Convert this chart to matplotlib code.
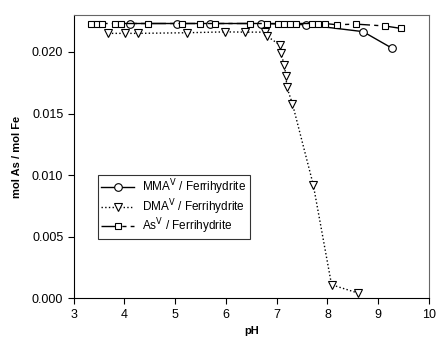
import matplotlib
matplotlib.use('Agg')
import matplotlib.pyplot as plt

plt.rcParams.update({
    'font.family': ['Liberation Sans', 'DejaVu Sans'],
    'font.size': 9,
})

# MMA(V) on ferrihydrite
mma_ph = [4.10, 5.03, 5.68, 6.69, 7.58, 8.70, 9.27]
mma_y = [0.0223, 0.0223, 0.0223, 0.0223, 0.0222, 0.02164, 0.0203]

# DMA(V) on ferrihydrite
dma_ph = [3.68, 4.01, 4.27, 5.23, 5.98, 6.38, 6.76, 6.80, 7.06, 7.08,
          7.15, 7.18, 7.20, 7.31, 7.72, 8.08, 8.60]
dma_y = [0.0215, 0.0215, 0.0215, 0.02155, 0.02162, 0.0216, 0.0216, 0.0213,
         0.02056, 0.01989, 0.01894, 0.01805, 0.01713, 0.01578, 0.00921,
         0.00111, 0.00044]

# As(V) on ferrihydrite
as_ph = [3.34, 3.45, 3.56, 3.81, 3.93, 4.47, 5.13, 5.49, 5.79, 6.47, 6.80,
         7.02, 7.14, 7.26, 7.38, 7.69, 7.82, 7.95, 8.18, 8.56, 9.13, 9.45]
as_y = [0.0223, 0.0223, 0.0223, 0.0223, 0.0223, 0.0223, 0.0223, 0.0223,
        0.0223, 0.0223, 0.0223, 0.0223, 0.0223, 0.0223, 0.0223, 0.0223,
        0.0223, 0.0223, 0.0222, 0.02225, 0.0221, 0.0219]

fig = plt.figure(figsize=(4.36, 3.38), dpi=100)
ax = fig.add_axes([0.169, 0.117, 0.815, 0.839])

ax.plot(mma_ph, mma_y, '-', color='black', lw=1, marker='o', ms=5.5,
        mfc='white', mec='black', mew=0.8, label=r'MMA$^\mathrm{V}$ / Ferrihydrite')
ax.plot(dma_ph, dma_y, ':', color='black', lw=1, marker='v', ms=5.5,
        mfc='white', mec='black', mew=0.8, label=r'DMA$^\mathrm{V}$ / Ferrihydrite')
ax.plot(as_ph, as_y, color='black', lw=1, ls=(0, (12, 3, 3, 3)), marker='s', ms=4.5,
        mfc='white', mec='black', mew=0.8, label=r'As$^\mathrm{V}$ / Ferrihydrite')

ax.set_xlim(3, 10)
ax.set_ylim(0, 0.023)
ax.set_xticks(range(3, 11))
ax.set_yticks([0, 0.005, 0.010, 0.015, 0.020])
ax.set_yticklabels(['0.000', '0.005', '0.010', '0.015', '0.020'])
ax.tick_params(direction='out', length=4, width=0.8, top=False, right=False)

for side in ['top', 'right']:
    ax.spines[side].set_color('0.4')
for side in ax.spines:
    ax.spines[side].set_linewidth(0.8)

ax.set_xlabel('pH', fontweight='bold', fontsize=8)
ax.set_ylabel('mol As / mol Fe', fontweight='bold', fontsize=8, labelpad=7)

leg = ax.legend(loc='upper left', bbox_to_anchor=(0.069, 0.437), fontsize=8.5,
                frameon=True, fancybox=False, handlelength=2.8, borderpad=0.25,
                labelspacing=0.0, handletextpad=0.7, borderaxespad=0)
leg.get_frame().set_edgecolor('black')
leg.get_frame().set_linewidth(0.8)

fig.savefig('out.png', dpi=100)
